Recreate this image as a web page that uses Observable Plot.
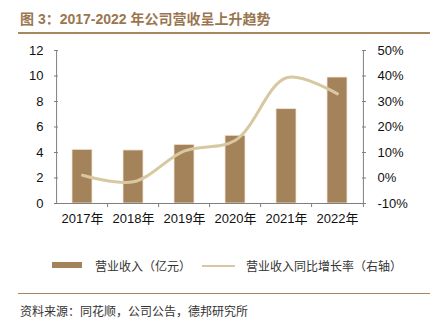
<!DOCTYPE html>
<html><head><meta charset="utf-8">
<script src="https://cdn.jsdelivr.net/npm/d3@7"></script>
<script src="https://cdn.jsdelivr.net/npm/@observablehq/plot@0.6"></script>
<style>
body{margin:0;background:#fff;}
#wrap{position:relative;width:435px;height:326px;overflow:hidden;font-family:"Liberation Sans","Noto Sans CJK SC",sans-serif;}
.abs{position:absolute;white-space:nowrap;}
</style></head>
<body><div id="wrap">
<div class="abs" style="left:20px;top:8px;font-size:14px;font-weight:bold;color:#9A7650;font-family:'Liberation Sans','Noto Sans CJK SC',sans-serif;">图 3：2017-2022 年公司营收呈上升趋势</div>
<div class="abs" style="left:18px;top:32px;width:412px;height:1.5px;background:#A8875E;"></div>
<div id="chart" class="abs" style="left:0;top:38px;"></div>
<div class="abs" style="left:52px;top:262px;width:30px;height:6px;background:#A5835A;"></div>
<div class="abs" style="left:95px;top:257px;font-size:12px;color:#333;font-family:'Noto Sans CJK SC',sans-serif;">营业收入（亿元）</div>
<div class="abs" style="left:202px;top:264.5px;width:33px;height:2.5px;background:#D8C8A2;"></div>
<div class="abs" style="left:246px;top:257px;font-size:12px;color:#333;font-family:'Noto Sans CJK SC',sans-serif;">营业收入同比增长率（右轴）</div>
<div class="abs" style="left:18px;top:292.5px;width:412px;height:1.5px;background:#A8875E;"></div>
<div class="abs" style="left:20px;top:302px;font-size:12px;color:#333;font-family:'Noto Sans CJK SC',sans-serif;">资料来源：同花顺，公司公告，德邦研究所</div>
</div>
<script>
const years = ["2017年","2018年","2019年","2020年","2021年","2022年"];
const revenue = [4.21, 4.16, 4.6, 5.31, 7.4, 9.88];
const growth = [1.1, -1.5, 10.6, 14.8, 39.3, 33.0];
const leftTicks = [0,2,4,6,8,10,12];
const rightTicks = [-10,0,10,20,30,40,50];

const data = years.map((y,i)=>({year:y, rev:revenue[i], g:growth[i]}));
const toLeft = p => (p + 10) / 5; // map -10..50 onto 0..12

const W = 435, ML = 54, MR = 70;
const step = (W - ML - MR) / years.length;
const axisColor = "#808080";

const chart = Plot.plot({
  width: W, height: 200,
  marginLeft: ML, marginRight: MR, marginTop: 12, marginBottom: 35,
  style: {fontFamily: "'Liberation Sans','Noto Sans CJK SC',sans-serif", fontSize: "13px", color: "#111", background: "#fff"},
  x: {domain: years, paddingInner: 0.6, paddingOuter: 0.3, label: null},
  y: {domain: [0, 12], label: null},
  marks: [
    Plot.barY(data, {x: "year", y: "rev", fill: "#A5835A", stroke: "#f2e6d6", strokeWidth: 0.8}),
    Plot.line(data, {x: "year", y: d => toLeft(d.g), stroke: "#D8C8A2", strokeWidth: 3, curve: "catmull-rom"}),
    Plot.ruleY([0], {stroke: axisColor}),
    Plot.ruleX([years[0]], {dx: -step/2, y1: 0, y2: 12, stroke: axisColor}),
    Plot.ruleX([years[years.length-1]], {dx: step/2, y1: 0, y2: 12, stroke: axisColor}),
    Plot.ruleX(years.slice(1), {dx: -step/2, y1: 0, y2: -0.32, stroke: axisColor}),
    Plot.ruleX([years[years.length-1]], {dx: step/2, y1: 0, y2: -0.32, stroke: axisColor}),
    Plot.axisX({tickSize: 0, tickPadding: 10, label: null}),
    Plot.axisY(leftTicks, {anchor: "left", tickSize: 0, tickPadding: 11, label: null}),
    Plot.axisY(leftTicks, {anchor: "left", tickSize: 4, dx: 4, tickFormat: () => "", stroke: axisColor, label: null}),
    Plot.axisY(rightTicks.map(toLeft), {anchor: "right", tickSize: 0, tickPadding: 12, tickFormat: v => Math.round(v*5 - 10) + "%", label: null}),
    Plot.axisY(rightTicks.map(toLeft), {anchor: "right", tickSize: 4, dx: -4, tickFormat: () => "", stroke: axisColor, label: null})
  ]
});
document.getElementById("chart").appendChild(chart);
</script>
</body></html>
